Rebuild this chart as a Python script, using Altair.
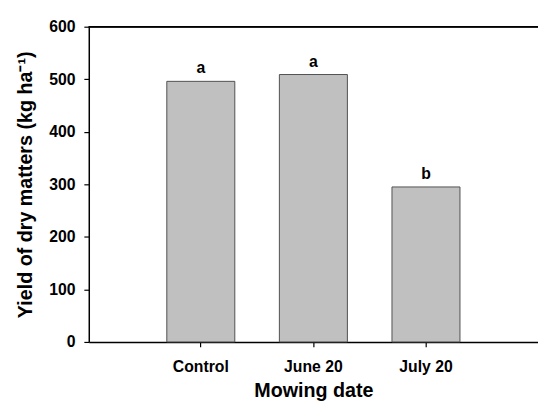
import altair as alt
import pandas as pd

categories = ["Control", "June 20", "July 20"]
yields = [496, 509, 295]
letters = ["a", "a", "b"]

df = pd.DataFrame({"date": categories, "yield": yields, "letter": letters})

FONT = "Liberation Sans"
W, H = 456, 320

x = alt.X("date:N", sort=categories, title="Mowing date",
          scale=alt.Scale(paddingInner=0.396, paddingOuter=0.693, align=0.5),
          axis=alt.Axis(labelAngle=0, labelFont=FONT, labelFontSize=16, labelFontWeight="bold",
                        labelColor="black", labelPadding=12,
                        titleFont=FONT, titleFontSize=20, titleFontWeight="bold", titleColor="black",
                        titlePadding=6, tickSize=5, tickColor="black", tickWidth=1.2,
                        domainColor="black", domainWidth=1.5, grid=False))
y = alt.Y("yield:Q", title="Yield of dry matters (kg ha⁻¹)",
          scale=alt.Scale(domain=[0, 600], nice=False),
          axis=alt.Axis(values=[0, 100, 200, 300, 400, 500, 600], labelFont=FONT, labelFontSize=16,
                        labelFontWeight="bold", labelColor="black", labelPadding=9,
                        titleFont=FONT, titleFontSize=20, titleFontWeight="bold", titleColor="black",
                        titlePadding=13, tickSize=5, tickColor="black", tickWidth=1.2,
                        domainColor="black", domainWidth=1.5, grid=False))

bars = alt.Chart(df).mark_bar(color="#c0c0c0", stroke="#505050", strokeWidth=1).encode(x=x, y=y)

text = alt.Chart(df).mark_text(font=FONT, fontSize=16, fontWeight="bold", color="black",
                               baseline="bottom", dy=-5).encode(
    x=alt.X("date:N", sort=categories), y="yield:Q", text="letter:N")

top = alt.Chart(df).mark_rule(color="black", strokeWidth=1.5).encode(
    y=alt.datum(600), x=alt.value(0), x2=alt.value(W))

chart = alt.layer(bars, text, top).properties(
    width=W, height=H,
    autosize=alt.AutoSizeParams(type="none"),
    padding={"left": 82, "top": 16, "right": 0, "bottom": 60},
).configure_view(stroke=None)

chart.save("out.html", embed_options={"renderer": "svg", "actions": False})
